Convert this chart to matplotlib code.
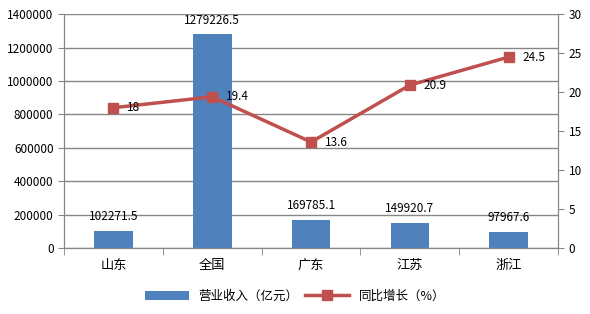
import numpy as np
import matplotlib.pyplot as plt
from matplotlib.ticker import FuncFormatter

plt.rcParams['font.family'] = ['Noto Sans CJK SC', 'DejaVu Sans']

regions = ["山东", "全国", "广东", "江苏", "浙江"]
revenue = [102271.5, 1279226.5, 169785.1, 149920.7, 97967.6]
growth = [18, 19.4, 13.6, 20.9, 24.5]

bar_color = "#4F81BD"
line_color = "#C0504D"
grid_color = "#868686"

fig = plt.figure(figsize=(5.9, 3.14), dpi=100)
ax = fig.add_axes([0.1085, 0.21, 0.8375, 0.745])
ax2 = ax.twinx()

x = np.arange(len(regions))
bars = ax.bar(x, revenue, width=0.39, color=bar_color, label="营业收入（亿元）", zorder=2)
for xi, v in zip(x, revenue):
    ax.text(xi, v + 45000, str(v), ha="center", va="bottom", fontsize=8.5)

line, = ax2.plot(x, growth, color=line_color, lw=2.5, marker="s", ms=7,
                 label="同比增长（%）", zorder=3)
for xi, v in zip(x, growth):
    ax2.text(xi + 0.14, v, str(v), ha="left", va="center", fontsize=8.5)

ax.set_xlim(-0.5, 4.5)
ax.set_ylim(0, 1400000)
ax.set_yticks(np.arange(0, 1400001, 200000))
ax.yaxis.set_major_formatter(FuncFormatter(lambda v, p: f"{int(v)}"))
ax2.set_ylim(0, 30)
ax2.set_yticks(np.arange(0, 31, 5))

ax.yaxis.grid(True, color=grid_color, lw=1)
ax.set_axisbelow(True)
ax.set_xticks(x)
ax.set_xticklabels(regions, fontsize=9.5)
ax.set_xticks(np.arange(-0.5, 4.6, 1), minor=True)
ax.tick_params(axis="x", which="major", length=0, pad=8)
ax.tick_params(axis="x", which="minor", length=5, color=grid_color)
ax.tick_params(axis="y", labelsize=8.5, length=4, color=grid_color)
ax2.tick_params(axis="y", labelsize=8.5, length=4, color=grid_color)

for a in (ax, ax2):
    a.spines["top"].set_visible(False)
    for s in ("left", "right", "bottom"):
        a.spines[s].set_color(grid_color)

fig.legend(handles=[bars, line], loc="lower center", bbox_to_anchor=(0.5, 0.0),
           ncol=2, frameon=False, fontsize=9, handlelength=3.5, columnspacing=0.5)

fig.savefig("out.png", dpi=100)
